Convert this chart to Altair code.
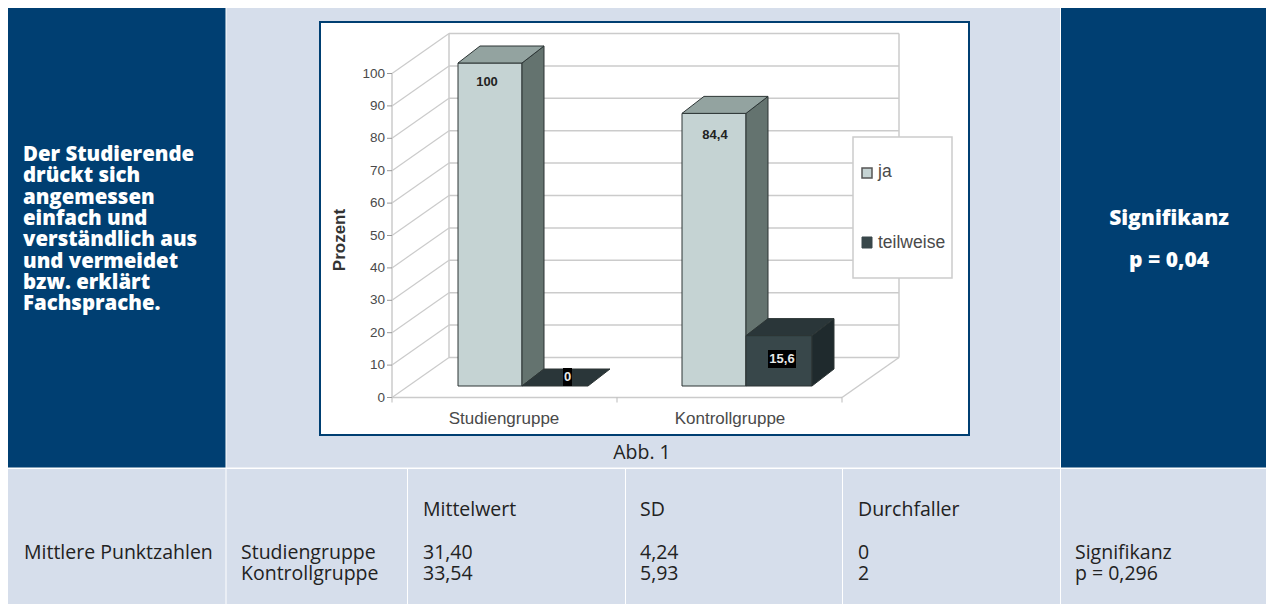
import altair as alt
import pandas as pd

# ---- content ----
left_lines = ["Der Studierende", "drückt sich", "angemessen", "einfach und",
              "verständlich aus", "und vermeidet", "bzw. erklärt", "Fachsprache."]
sig_lines = ["Signifikanz", "p = 0,04"]
caption = "Abb. 1"
groups = ["Studiengruppe", "Kontrollgruppe"]
ja_values = [100, 84.4]
teilweise_values = [0, 15.6]
ja_labels = ["100", "84,4"]
teilweise_labels = ["0", "15,6"]
y_ticks = [0, 10, 20, 30, 40, 50, 60, 70, 80, 90, 100]
y_title = "Prozent"
legend_items = ["ja", "teilweise"]
table_headers = ["Mittelwert", "SD", "Durchfaller"]
table_row_title = "Mittlere Punktzahlen"
table_col_study = ["31,40", "4,24", "0"]
table_col_control = ["33,54", "5,93", "2"]
table_sig = ["Signifikanz", "p = 0,296"]

# ---- styling / layout ----
NAVY, PANEL = "#003f72", "#d6deeb"
LIGHT = ("#c5d3d3", "#64736f", "#93a3a0")
DARK = ("#38474a", "#1f2a2d", "#2a3639")
OUTLINE = "#2c3535"
GRID = "#cbcbcb"
W, H = 1258, 596
X = alt.X("x:Q", axis=None, scale=alt.Scale(domain=[8, 8 + W], range=[0, W], nice=False, zero=False))
Y = alt.Y("y:Q", axis=None, scale=alt.Scale(domain=[8, 8 + H], range=[0, H], nice=False, zero=False))
X2, Y2 = alt.X2("x2:Q"), alt.Y2("y2:Q")
layers = []


def rects(rows, **mark):
    df = pd.DataFrame(rows, columns=["x", "x2", "y", "y2"])
    layers.append(alt.Chart(df).mark_rect(**mark).encode(x=X, x2=X2, y=Y, y2=Y2))


def segs(rows, **mark):
    df = pd.DataFrame(rows, columns=["x", "x2", "y", "y2"])
    layers.append(alt.Chart(df).mark_rule(**mark).encode(x=X, x2=X2, y=Y, y2=Y2))


def texts(rows, **mark):
    df = pd.DataFrame(rows, columns=["x", "y", "t"])
    layers.append(alt.Chart(df).mark_text(**mark).encode(x=X, y=Y, text="t:N"))


# panels
rects([[8, 225.5, 8, 467.5], [1061, 1266, 8, 467.5]], color=NAVY)
rects([[226.5, 1060, 8, 467.5]], color=PANEL)
rects([[8, 225.5, 469, 604], [226.5, 407, 469, 604], [408, 625, 469, 604], [626, 842, 469, 604],
       [843, 1060, 469, 604], [1061, 1266, 469, 604]], color=PANEL)
rects([[320, 969, 22, 435]], fill="white", stroke=NAVY, strokeWidth=2)

# navy text
BOLD = dict(font="Open Sans", fontWeight=800, color="white", baseline="alphabetic")
texts([[23, 161 + i * 21.3, s] for i, s in enumerate(left_lines)], align="left", fontSize=20.4, **BOLD)
texts([[1169, 225 + i * 42, s] for i, s in enumerate(sig_lines)], align="center", fontSize=21, **BOLD)
texts([[642, 459, caption]], align="center", fontSize=19.5, font="Open Sans", color="#222", baseline="alphabetic")

# 3D projection of the chart
Y0, UNIT = 397.5, 3.24
AX_L, AX_R, DX, DY = 392, 842, 57, 40


def wall_y(v):
    return Y0 - UNIT * v


segs([[AX_L + DX, AX_R + DX, wall_y(v) - DY, wall_y(v) - DY] for v in y_ticks], color=GRID, strokeWidth=1.5)
segs([[AX_L, AX_L + DX, wall_y(v), wall_y(v) - DY] for v in y_ticks], color=GRID, strokeWidth=1.2)
segs([[AX_L, AX_L, wall_y(0), wall_y(100)], [AX_L + DX, AX_L + DX, wall_y(0) - DY, wall_y(100) - DY],
      [AX_R + DX, AX_R + DX, wall_y(0) - DY, wall_y(100) - DY], [AX_L, AX_R, wall_y(0), wall_y(0)],
      [AX_R, AX_R + DX, wall_y(0), wall_y(0) - DY]], color=GRID, strokeWidth=1.5)
segs([[AX_L - 5, AX_L, wall_y(v), wall_y(v)] for v in y_ticks], color="#999", strokeWidth=1)
segs([[x, x, Y0, Y0 + 5] for x in (AX_L, (AX_L + AX_R) / 2, AX_R)], color="#bbb", strokeWidth=1)

AXIS_TXT = dict(font="Liberation Sans", color="#4a4a4a")
texts([[385, wall_y(v), str(v)] for v in y_ticks], align="right", baseline="middle", fontSize=13.5, **AXIS_TXT)
layers.append(alt.Chart(pd.DataFrame({"x": [340], "y": [240], "t": [y_title]})).mark_text(
    angle=270, fontSize=17, fontWeight="bold", font="Liberation Sans", color="#333", align="center", baseline="middle"
).encode(x=X, y=Y, text="t:N"))
texts([[504, 419, groups[0]], [730, 419, groups[1]]], align="center", baseline="middle", fontSize=17, **AXIS_TXT)

# bars
BASE, BUNIT, BDX, BDY = 386, 3.23, 22, 17


def bar(x0, x1, v, colours):
    front, side, top = colours
    ty = BASE - BUNIT * v
    if v > 0:
        rects([[x0, x1, ty, BASE]], fill=front, stroke=OUTLINE, strokeWidth=1)
        df = pd.DataFrame({"x": [x1, x1 + BDX], "y": [ty, ty - BDY], "y2": [BASE, BASE - BDY]})
        layers.append(alt.Chart(df).mark_area(fill=side, stroke=OUTLINE, strokeWidth=1, opacity=1).encode(x=X, y=Y, y2=Y2))
    df = pd.DataFrame({"y": [ty, ty - BDY], "x": [x0, x0 + BDX], "x2": [x1, x1 + BDX]})
    layers.append(alt.Chart(df).mark_area(fill=top, stroke=OUTLINE, strokeWidth=1, opacity=1, orient="horizontal").encode(x=X, x2=X2, y=Y))


bar_x = [458, 682]
for bx, a, b in zip(bar_x, ja_values, teilweise_values):
    bar(bx, bx + 64, a, LIGHT)
    bar(bx + 64, bx + 130, b, DARK)

# data labels
LBL = dict(font="Liberation Sans", fontWeight="bold", fontSize=13, align="center", baseline="middle")
texts([[487, 82, ja_labels[0]], [715, 135, ja_labels[1]]], color="#222", **LBL)
rects([[563, 572, 368, 386], [768, 796, 350, 368]], color="black")
texts([[567.5, 377, teilweise_labels[0]], [782, 359, teilweise_labels[1]]], color="#e8e8e8", **LBL)

# legend
rects([[853, 952, 137, 278]], fill="white", stroke="#cccccc", strokeWidth=1.5)
rects([[862, 872, 168, 178]], fill=LIGHT[0], stroke="#555", strokeWidth=1.5)
rects([[862, 872, 237, 248]], fill=DARK[0], stroke=DARK[0], strokeWidth=1)
texts([[878, 172, legend_items[0]], [878, 243, legend_items[1]]], align="left", baseline="middle", fontSize=17.5, **AXIS_TXT)

# lower table
TBL = dict(font="Open Sans", fontSize=19.5, color="#222", align="left", baseline="alphabetic")
HEAD_Y, R1, R2 = 516, 559, 580
cols = [423, 640, 858]
texts([[24, R1, table_row_title], [241, R1, groups[0]], [241, R2, groups[1]],
       [1075, R1, table_sig[0]], [1075, R2, table_sig[1]]]
      + [[c, HEAD_Y, h] for c, h in zip(cols, table_headers)]
      + [[c, R1, v] for c, v in zip(cols, table_col_study)]
      + [[c, R2, v] for c, v in zip(cols, table_col_control)], **TBL)

chart = alt.layer(*layers).properties(
    width=W, height=H, padding=0, autosize=alt.AutoSizeParams(type="none"), background="white"
).configure_view(stroke=None)
chart.save("out.html", embed_options={"renderer": "svg", "actions": False})
